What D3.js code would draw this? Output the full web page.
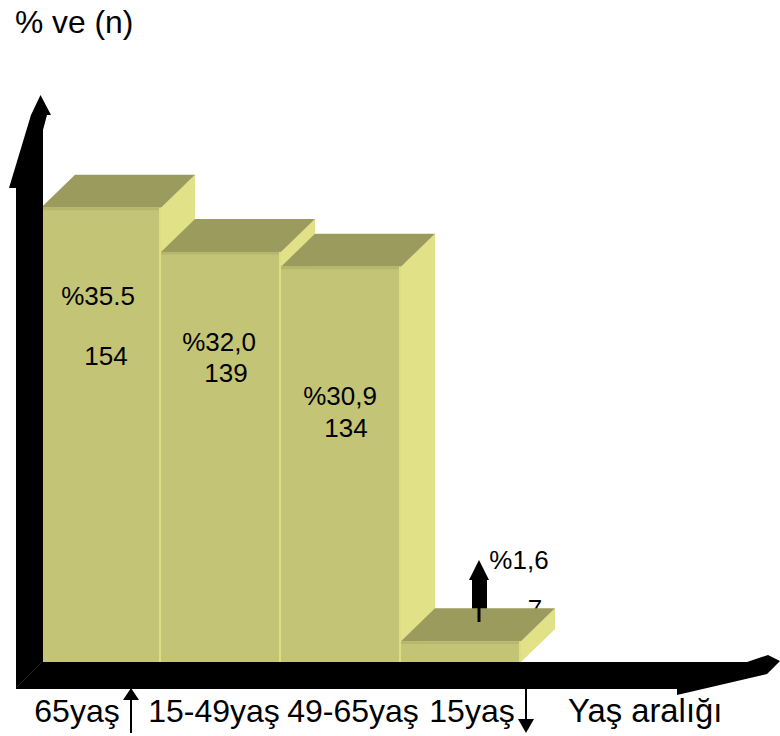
<!DOCTYPE html>
<html>
<head>
<meta charset="utf-8">
<style>
html,body{margin:0;padding:0;background:#fff}
svg{display:block}
text{font-family:"Liberation Sans",Arial,sans-serif;fill:#000}
</style>
<script src="https://cdn.jsdelivr.net/npm/d3@7"></script>
</head>
<body>
<svg id="chart" width="780" height="736"></svg>
<script>
// Age groups, their share of cases and the case counts
const categories = ["65yaş", "15-49yaş", "49-65yaş", "15yaş"];
const percentLabels = ["%35.5", "%32,0", "%30,9", "%1,6"];
const counts = [154, 139, 134, 7];

const yTitle = "% ve (n)";
const xTitle = "Yaş aralığı";

const colors = {
  front: "#c4c476", frontEdge: "#b6b66c", seam: "#dedd84",
  top: "#9b9b5e", side: "#e1e187", ink: "#000"
};

const svg = d3.select("#chart");
const baseY = 662;
const depth = { dx: 34, dy: 33 };

const x = d3.scaleBand().domain(categories).range([41, 521]).padding(0);
const y = d3.scaleLinear().domain([0, 160]).range([baseY, 190]);

const pts = a => a.map(p => p.join(",")).join(" ");
const poly = (p, fill) => svg.append("polygon").attr("points", pts(p)).attr("fill", fill);

// Label placement relative to each band's centre
const percentPos = [[-3, 305], [-2, 351], [-1, 405], [58, 569]];
const countPos = [[5, 365], [5, 382], [5, 437], [74, 618]];
const labelSize = 26;

// The value labels sit behind the last, lowest bar, so they go down first when they overlap it
function drawLabels(i) {
  const c = x(categories[i]) + x.bandwidth() / 2;
  svg.append("text").attr("x", c + percentPos[i][0]).attr("y", percentPos[i][1])
    .attr("text-anchor", "middle").attr("font-size", labelSize).text(percentLabels[i]);
  svg.append("text").attr("x", c + countPos[i][0]).attr("y", countPos[i][1])
    .attr("text-anchor", "middle").attr("font-size", labelSize).text(counts[i]);
}

// Small pointer above the lowest bar, stem drawn after the bar top
const pointerX = x(categories[3]) + x.bandwidth() / 2 + 18;
function drawPointerHead() {
  poly([[pointerX, 560], [pointerX + 10, 580], [pointerX + 8, 580], [pointerX + 8, 612],
        [pointerX - 7, 612], [pointerX - 7, 580], [pointerX - 10, 580]], colors.ink);
}

// One extruded bar: side, top, front and its highlighted edges
function drawBar(d, i) {
  const x0 = x(categories[i]), x1 = x0 + x.bandwidth(), t = y(d);
  poly([[x1, t], [x1 + depth.dx, t - depth.dy], [x1 + depth.dx, baseY - depth.dy], [x1, baseY]], colors.side);
  poly([[x0, t], [x0 + depth.dx, t - depth.dy], [x1 + depth.dx, t - depth.dy], [x1, t]], colors.top);
  svg.append("rect").attr("x", x0).attr("y", t).attr("width", x.bandwidth()).attr("height", baseY - t).attr("fill", colors.front);
  svg.append("rect").attr("x", x0).attr("y", t).attr("width", x.bandwidth()).attr("height", 2.5).attr("fill", colors.frontEdge);
  svg.append("rect").attr("x", x1 - 2).attr("y", t).attr("width", 2).attr("height", baseY - t).attr("fill", colors.seam);
}

drawLabels(3);
drawPointerHead();
counts.forEach(drawBar);
[0, 1, 2].forEach(drawLabels);

svg.append("line").attr("x1", pointerX).attr("x2", pointerX).attr("y1", 604).attr("y2", 622)
  .attr("stroke", colors.ink).attr("stroke-width", 3);

// Heavy L-shaped axes with skewed arrowheads
poly([[16, 689], [16, 188], [9, 188], [31, 115], [40.5, 95], [51, 115], [47, 115], [43, 130], [43, 662], [747, 662],
      [768, 655], [780, 661], [767, 674], [677, 695], [677, 689]], colors.ink);
svg.append("line").attr("x1", 17).attr("y1", 687).attr("x2", 41).attr("y2", 663)
  .attr("stroke", "#333").attr("stroke-width", 0.7);

// Category labels via a bottom axis, each nudged to sit between the arrows
const tickShift = [-24, -7, 12, 11];
const axis = svg.append("g").attr("transform", "translate(0,722)")
  .call(d3.axisBottom(x).tickSize(0).tickPadding(0));
axis.select(".domain").remove();
axis.selectAll("text")
  .attr("y", 0).attr("dy", 0)
  .attr("dx", (d, i) => tickShift[i])
  .style("font-size", "32px")
  .style("font-family", '"Liberation Sans",Arial,sans-serif');

svg.append("text").attr("x", 15).attr("y", 33).attr("font-size", 31.8).text(yTitle);
svg.append("text").attr("x", 568).attr("y", 722).attr("font-size", 32.8).text(xTitle);

// Up and down markers flanking the category labels
const upX = 131, downX = 526;
svg.append("line").attr("x1", upX).attr("x2", upX).attr("y1", 698).attr("y2", 733).attr("stroke", colors.ink).attr("stroke-width", 2);
poly([[upX, 688], [upX + 8, 700], [upX - 8, 700]], colors.ink);
svg.append("line").attr("x1", downX).attr("x2", downX).attr("y1", 689).attr("y2", 720).attr("stroke", colors.ink).attr("stroke-width", 2);
poly([[downX - 8, 719], [downX + 8, 719], [downX, 733]], colors.ink);
</script>
</body>
</html>
